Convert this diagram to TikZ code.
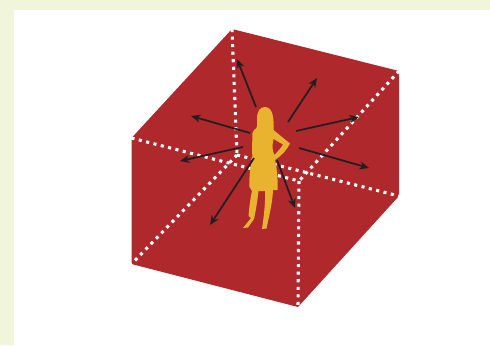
\documentclass[tikz,border=0pt]{standalone}
\usepackage{xcolor}
\usetikzlibrary{arrows.meta}
\definecolor{boxred}{RGB}{174,40,44}
\definecolor{paleback}{RGB}{241,245,218}
\definecolor{figyellow}{RGB}{233,178,47}
\definecolor{arrowdark}{RGB}{35,31,32}
\tikzset{
    edgedots/.style={white, line width=1.75pt, dash pattern=on 1.75pt off 2.55pt},
    pusharrow/.style={-{Stealth[length=1.9mm,width=1.6mm]}, arrowdark, line width=1pt}
}
\begin{document}
\begin{tikzpicture}[x=0.02cm, y=-0.02cm]
    \useasboundingbox (0,0) rectangle (490,345);

    % Page background
    \fill[paleback] (0,0) rectangle (490,345);
    \fill[white] (14,10) rectangle (490,345);

    % Box corners
    \coordinate (topback) at (232,29);
    \coordinate (topright) at (399,71);
    \coordinate (midright) at (399,196);
    \coordinate (bottom) at (298,307);
    \coordinate (lowleft) at (131.5,264);
    \coordinate (topleft) at (131.5,138);
    \coordinate (front) at (299,181);
    \coordinate (back) at (237,155);

    % Box outline
    \fill[boxred] (topback) -- (topright) -- (midright) -- (bottom) -- (lowleft) -- (topleft) -- cycle;

    % Dotted edges
    \draw[edgedots] (topback) -- (back);
    \draw[edgedots] (back) -- (midright);
    \draw[edgedots] (back) -- (lowleft);
    \draw[edgedots] (topleft) -- (front);
    \draw[edgedots] (topright) -- (front);
    \draw[edgedots] (front) -- (bottom);

    % Figure in the middle
    \fill[figyellow, even odd rule]
        (265,107) .. controls (260,107) and (257,111) .. (257,119)
        .. controls (257,125) and (258,128) .. (254,130)
        -- (252.5,133) -- (252,150) -- (252.5,158)
        .. controls (250,166) and (249,178) .. (249.5,187)
        -- (252,191)
        .. controls (250,200) and (249,210) .. (248.5,216)
        -- (251,218) -- (243,228) -- (248,227.5) -- (254,219)
        .. controls (256,210) and (257.5,200) .. (258.5,191)
        -- (265,191)
        .. controls (265.5,205) and (263.5,218) .. (262,229)
        -- (266.5,228.5) -- (268.5,219)
        .. controls (271,208) and (272.5,200) .. (273,190)
        -- (277.5,190)
        .. controls (278,178) and (277,170) .. (275,160)
        .. controls (281,156) and (287,150) .. (290,143.5)
        -- (273.5,130)
        .. controls (274,120) and (273.5,107) .. (265,107) -- cycle
        (273.5,139) .. controls (272,146) and (272,150) .. (274.5,155)
        .. controls (278,151) and (281,148) .. (283,144.5) -- cycle;

    % Arrows pushing out from the figure
    \foreach \xa/\ya/\xb/\yb in {256/107/237/59, 288/122/317/78, 296/131/359/117, 299/148/369/168,
                                 277/160/295/208, 254/158/210/225, 243/147/180/161, 250/133/191/116} {
        \draw[pusharrow] (\xa,\ya) -- (\xb,\yb);
    }
\end{tikzpicture}
\end{document}
